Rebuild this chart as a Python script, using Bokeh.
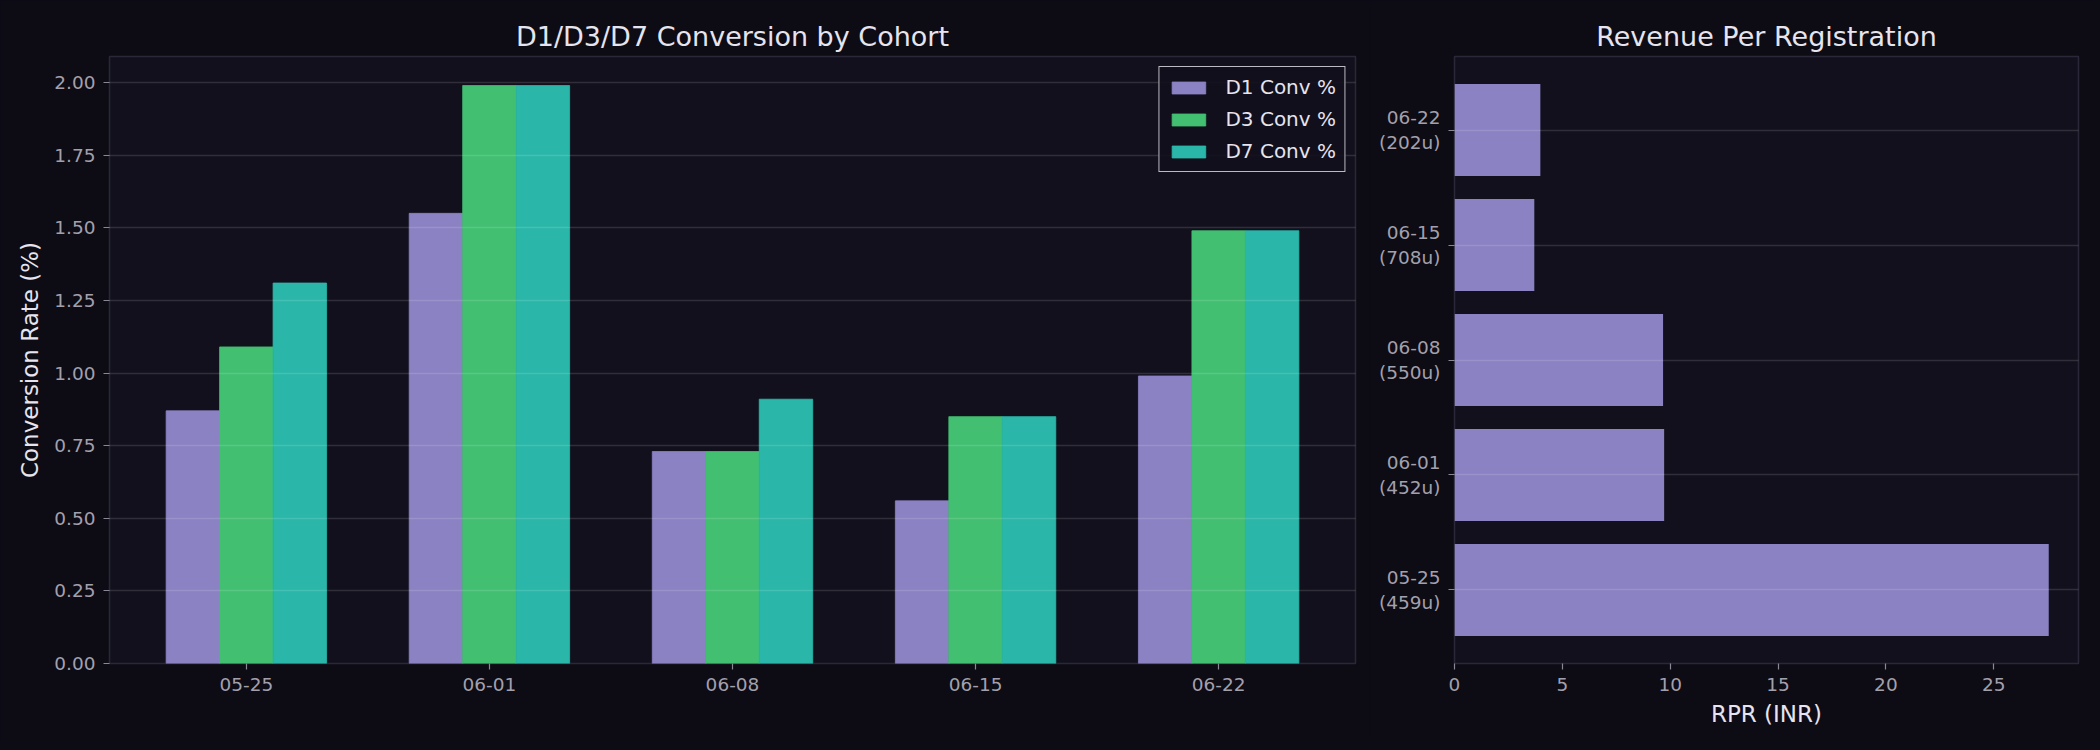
from bokeh.plotting import figure
from bokeh.layouts import row
from bokeh.models import Range1d, FixedTicker, NumeralTickFormatter, Legend, LegendItem
from bokeh.models import ColumnDataSource
from bokeh.transform import dodge
from bokeh.embed import file_html
from bokeh.resources import INLINE

# ---- data ----
cohorts = ["05-25", "06-01", "06-08", "06-15", "06-22"]
users = [459, 452, 550, 708, 202]
d1_conv = [0.87, 1.55, 0.73, 0.56, 0.99]
d3_conv = [1.09, 1.99, 0.73, 0.85, 1.49]
d7_conv = [1.31, 1.99, 0.91, 0.85, 1.49]
rpr = [27.55, 9.72, 9.67, 3.70, 3.98]
conv_ticks = [0.0, 0.25, 0.5, 0.75, 1.0, 1.25, 1.5, 1.75, 2.0]
rpr_ticks = [0, 5, 10, 15, 20, 25]

# ---- style ----
FIG_BG = "#0d0b14"
AX_BG = "#12101c"
SPINE = "#2a2838"
GRID = "#ffffff"
TICK_TXT = "#a3a0ad"
LABEL_TXT = "#e6e4ee"
FONT = "DejaVu Sans"
C1, C3, C7 = "#8b82c4", "#42bf71", "#2ab7a9"
BAR_W = 0.22

idx = list(range(len(cohorts)))
src = ColumnDataSource(dict(idx=idx, d1=d1_conv, d3=d3_conv, d7=d7_conv))


def style(p):
    p.background_fill_color = AX_BG
    p.border_fill_color = FIG_BG
    p.outline_line_color = SPINE
    p.outline_line_width = 1.5
    p.title.text_font = FONT
    p.title.text_font_size = "27px"
    p.title.text_font_style = "normal"
    p.title.text_color = LABEL_TXT
    p.title.align = "center"
    for ax in (p.xaxis[0], p.yaxis[0]):
        ax.axis_line_color = None
        ax.major_tick_line_color = "#8a8796"
        ax.major_tick_line_width = 1.2
        ax.major_tick_out = 6
        ax.major_tick_in = 0
        ax.minor_tick_line_color = None
        ax.major_label_text_font = FONT
        ax.major_label_text_font_size = "18.5px"
        ax.major_label_text_color = TICK_TXT
        ax.major_label_standoff = 8
        ax.axis_label_text_font = FONT
        ax.axis_label_text_font_size = "23px"
        ax.axis_label_text_font_style = "normal"
        ax.axis_label_text_color = LABEL_TXT
        ax.axis_label_standoff = 8
    p.xaxis[0].axis_label_standoff = 7
    p.xgrid.grid_line_color = None
    p.ygrid.grid_line_color = GRID
    p.ygrid.grid_line_alpha = 0.13
    p.ygrid.grid_line_width = 1.5
    p.ygrid.level = "guide"


# ---- left chart ----
p1 = figure(width=1370, height=742, output_backend="svg", toolbar_location=None,
            title="D1/D3/D7 Conversion by Cohort",
            x_range=Range1d(-0.563, 4.563), y_range=Range1d(0, 2.09),
            min_border_left=109, min_border_right=15, min_border_top=56,
            min_border_bottom=79)
r1 = p1.vbar(x=dodge("idx", -BAR_W, range=p1.x_range), top="d1", width=BAR_W,
             source=src, fill_color=C1, line_color=C1, line_width=0.8)
r3 = p1.vbar(x=dodge("idx", 0.0, range=p1.x_range), top="d3", width=BAR_W,
             source=src, fill_color=C3, line_color=C3, line_width=0.8)
r7 = p1.vbar(x=dodge("idx", BAR_W, range=p1.x_range), top="d7", width=BAR_W,
             source=src, fill_color=C7, line_color=C7, line_width=0.8)
style(p1)
p1.xaxis.ticker = FixedTicker(ticks=idx)
p1.xaxis.major_label_overrides = {i: c for i, c in zip(idx, cohorts)}
p1.yaxis.ticker = FixedTicker(ticks=conv_ticks)
p1.yaxis.formatter = NumeralTickFormatter(format="0.00")
p1.yaxis.axis_label = "Conversion Rate (%)"

legend = Legend(items=[LegendItem(label="D1 Conv %", renderers=[r1]),
                       LegendItem(label="D3 Conv %", renderers=[r3]),
                       LegendItem(label="D7 Conv %", renderers=[r7])],
                location="top_right")
legend.background_fill_color = AX_BG
legend.background_fill_alpha = 0.9
legend.border_line_color = "#cfcdd6"
legend.border_line_width = 1.8
legend.border_line_alpha = 0.9
legend.label_text_font = FONT
legend.label_text_font_size = "20px"
legend.label_text_color = LABEL_TXT
legend.glyph_width = 42
legend.glyph_height = 15
legend.label_height = 20
legend.spacing = 8
legend.padding = 8
legend.margin = 10
legend.label_standoff = 16
p1.add_layout(legend)

# ---- right chart ----
src2 = ColumnDataSource(dict(idx=idx, rpr=rpr))
p2 = figure(width=722, height=742, output_backend="svg", toolbar_location=None,
            title="Revenue Per Registration",
            x_range=Range1d(0, 28.93), y_range=Range1d(-0.64, 4.64),
            min_border_left=84, min_border_right=14, min_border_top=56,
            min_border_bottom=79)
p2.hbar(y="idx", right="rpr", left=0, height=0.8, source=src2,
        fill_color=C1, line_color=None)
style(p2)
p2.xaxis.ticker = FixedTicker(ticks=rpr_ticks)
p2.xaxis.axis_label = "RPR (INR)"
p2.yaxis.ticker = FixedTicker(ticks=idx)
p2.yaxis.major_label_overrides = {i: f"{c}\n({u}u)" for i, c, u in zip(idx, cohorts, users)}

layout = row(p1, p2)
html = file_html(layout, INLINE)
html = html.replace("<head>", "<head><style>html,body{background:%s;}</style>" % FIG_BG, 1)
open("out.html", "w").write(html)
